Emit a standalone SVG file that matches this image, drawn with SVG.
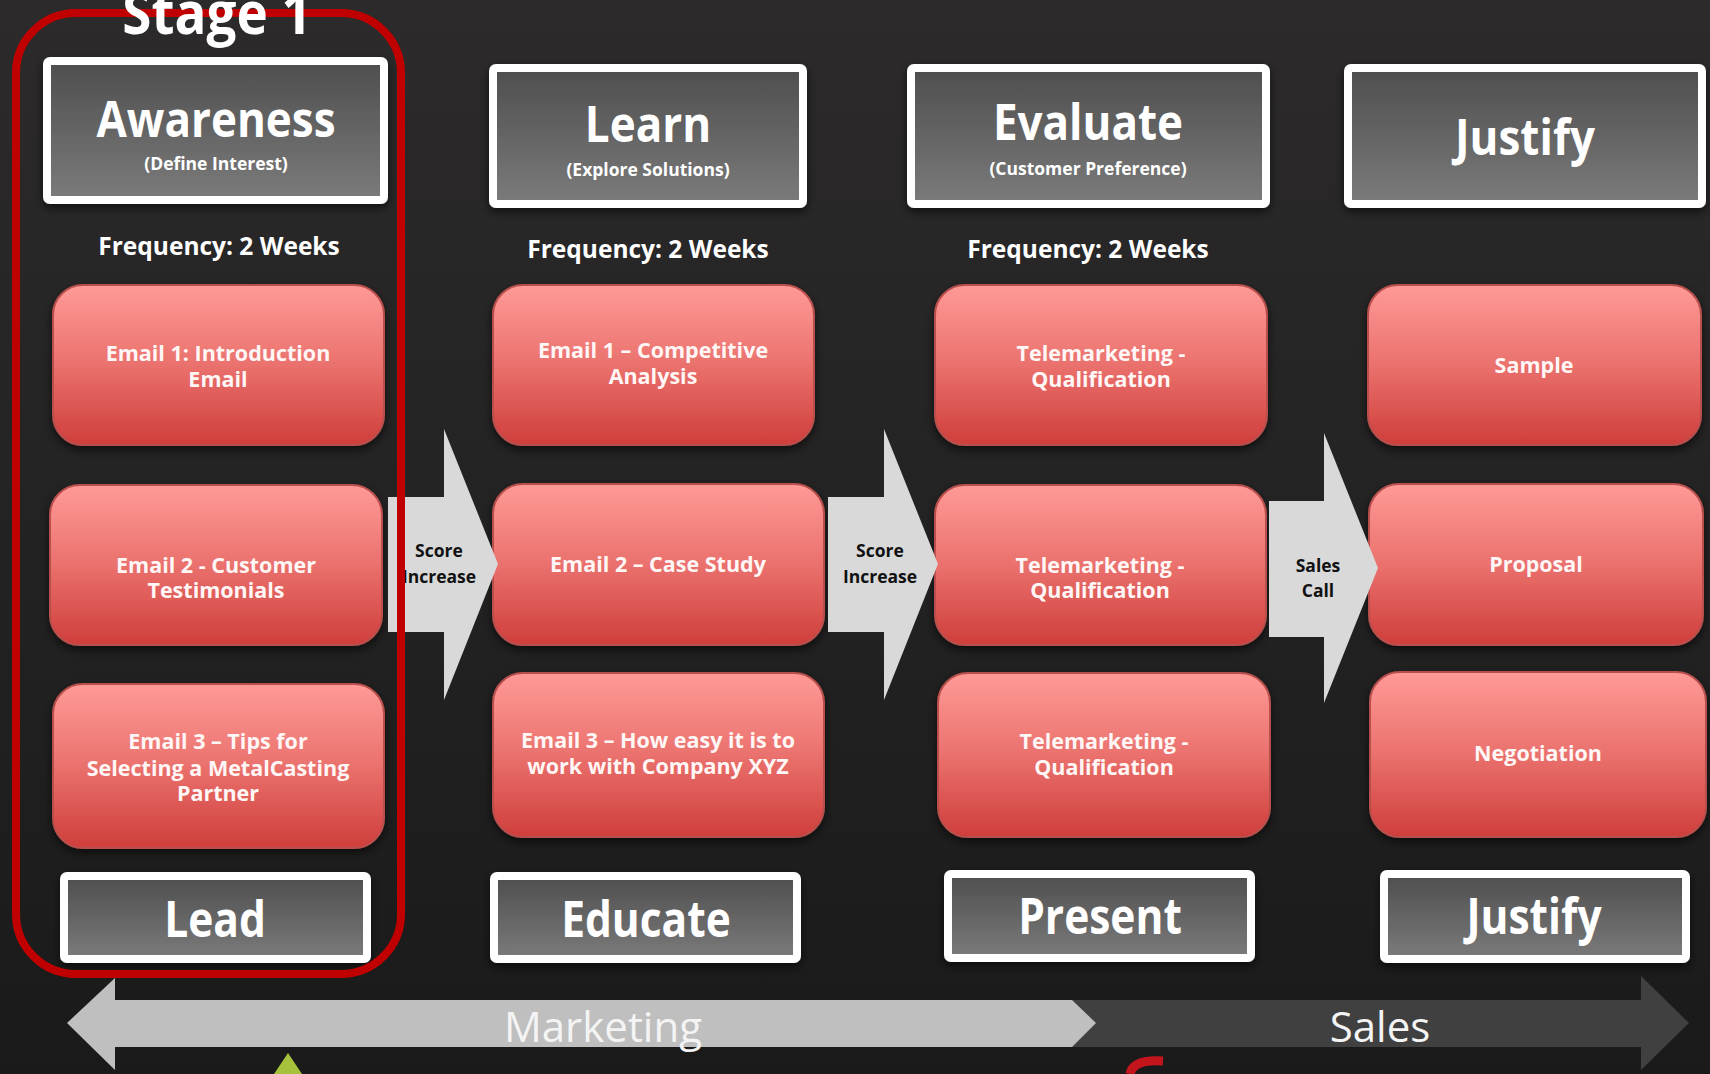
<svg xmlns="http://www.w3.org/2000/svg" width="1710" height="1074" viewBox="0 0 1710 1074">
  <defs>
    <linearGradient id="bg" x1="0" y1="0" x2="0" y2="1">
      <stop offset="0" stop-color="#2c2a2a"/>
      <stop offset="0.6" stop-color="#222121"/>
      <stop offset="1" stop-color="#1a1a1a"/>
    </linearGradient>
    <linearGradient id="redFill" x1="0" y1="0" x2="0" y2="1">
      <stop offset="0" stop-color="#ff9a97"/>
      <stop offset="0.5" stop-color="#ea716d"/>
      <stop offset="1" stop-color="#cf3e3b"/>
    </linearGradient>
    <linearGradient id="grayFill" x1="0" y1="0" x2="0" y2="1">
      <stop offset="0" stop-color="#4e4e4e"/>
      <stop offset="1" stop-color="#7b7b7b"/>
    </linearGradient>
    <filter id="shadow" x="-10%" y="-10%" width="120%" height="130%">
      <feDropShadow dx="0" dy="4" stdDeviation="5" flood-color="#000" flood-opacity="0.6"/>
    </filter>
    <style>
      .step rect { fill: url(#redFill); stroke: #b9504d; stroke-width: 2; filter: url(#shadow); }
      .step text { font-family: "Open Sans", "Noto Sans", sans-serif; font-weight: 700; font-size: 21.5px; fill: #fff6f6; text-anchor: middle; }
      .stage rect { fill: url(#grayFill); stroke: #ffffff; stroke-width: 8; filter: url(#shadow); }
      .title { font-family: "Open Sans", "Noto Sans", sans-serif; font-weight: 700; font-size: 44px; fill: #ffffff; text-anchor: middle; }
      .sub { font-family: "Open Sans", "Noto Sans", sans-serif; font-weight: 700; font-size: 17.5px; fill: #ffffff; text-anchor: middle; }
      .freq { font-family: "Open Sans", "Noto Sans", sans-serif; font-weight: 700; font-size: 24.5px; fill: #ffffff; text-anchor: middle; }
      .label { font-family: "Open Sans", "Noto Sans", sans-serif; font-weight: 700; font-size: 42.5px; fill: #ffffff; text-anchor: middle; }
      .chev polygon { fill: #d9d9d9; }
      .chev text { font-family: "Open Sans", "Noto Sans", sans-serif; font-weight: 700; font-size: 17.5px; fill: #111111; text-anchor: middle; }
      .phase { font-family: "Open Sans", "Noto Sans", sans-serif; font-weight: 400; font-size: 42px; fill: #f4f4f4; text-anchor: middle; }
    </style>
  </defs>

  <!-- backdrop -->
  <rect x="0" y="0" width="1710" height="1074" fill="url(#bg)"/>

  <!-- column headers -->
  <g id="hdr-awareness" class="stage">
    <rect x="47" y="61" width="337" height="139" rx="3"/>
    <text class="title" transform="translate(216,137) scale(1,1.12)">Awareness</text>
    <text class="sub" x="216" y="170">(Define Interest)</text>
  </g>
  <g id="hdr-learn" class="stage">
    <rect x="493" y="68" width="310" height="136" rx="3"/>
    <text class="title" transform="translate(648,142) scale(1,1.12)">Learn</text>
    <text class="sub" x="648" y="176">(Explore Solutions)</text>
  </g>
  <g id="hdr-evaluate" class="stage">
    <rect x="911" y="68" width="355" height="136" rx="3"/>
    <text class="title" transform="translate(1088,140) scale(1,1.12)">Evaluate</text>
    <text class="sub" x="1088" y="175">(Customer Preference)</text>
  </g>
  <g id="hdr-justify" class="stage">
    <rect x="1348" y="68" width="354" height="136" rx="3"/>
    <text class="title" transform="translate(1525,155) scale(1,1.12)">Justify</text>
  </g>

  <!-- cadence notes -->
  <g id="freq-1"><text class="freq" x="219" y="255">Frequency: 2 Weeks</text></g>
  <g id="freq-2"><text class="freq" x="648" y="258">Frequency: 2 Weeks</text></g>
  <g id="freq-3"><text class="freq" x="1088" y="258">Frequency: 2 Weeks</text></g>

  <!-- stage 1 touches -->
  <g id="email1-intro" class="step">
    <rect x="53" y="285" width="331" height="160" rx="30"/>
    <text x="218" y="361">Email 1: Introduction</text>
    <text x="218" y="387">Email</text>
  </g>
  <g id="email2-testimonials" class="step">
    <rect x="50" y="485" width="332" height="160" rx="30"/>
    <text x="216" y="573">Email 2 - Customer</text>
    <text x="216" y="598">Testimonials</text>
  </g>
  <g id="email3-tips" class="step">
    <rect x="53" y="684" width="331" height="164" rx="30"/>
    <text x="218" y="749">Email 3 – Tips for</text>
    <text x="218" y="776">Selecting a MetalCasting</text>
    <text x="218" y="801">Partner</text>
  </g>

  <!-- stage 2 touches -->
  <g id="email1-competitive" class="step">
    <rect x="493" y="285" width="321" height="160" rx="30"/>
    <text x="653" y="358">Email 1 – Competitive</text>
    <text x="653" y="384">Analysis</text>
  </g>
  <g id="email2-casestudy" class="step">
    <rect x="493" y="484" width="331" height="161" rx="30"/>
    <text x="658" y="572">Email 2 – Case Study</text>
  </g>
  <g id="email3-easy" class="step">
    <rect x="493" y="673" width="331" height="164" rx="30"/>
    <text x="658" y="748">Email 3 – How easy it is to</text>
    <text x="658" y="774">work with Company XYZ</text>
  </g>

  <!-- stage 3 touches -->
  <g id="tele-1" class="step">
    <rect x="935" y="285" width="332" height="160" rx="30"/>
    <text x="1101" y="361">Telemarketing -</text>
    <text x="1101" y="387">Qualification</text>
  </g>
  <g id="tele-2" class="step">
    <rect x="935" y="485" width="331" height="160" rx="30"/>
    <text x="1100" y="573">Telemarketing -</text>
    <text x="1100" y="598">Qualification</text>
  </g>
  <g id="tele-3" class="step">
    <rect x="938" y="673" width="332" height="164" rx="30"/>
    <text x="1104" y="749">Telemarketing -</text>
    <text x="1104" y="775">Qualification</text>
  </g>

  <!-- stage 4 touches -->
  <g id="sample" class="step">
    <rect x="1368" y="285" width="333" height="160" rx="30"/>
    <text x="1534" y="373">Sample</text>
  </g>
  <g id="proposal" class="step">
    <rect x="1369" y="484" width="334" height="161" rx="30"/>
    <text x="1536" y="572">Proposal</text>
  </g>
  <g id="negotiation" class="step">
    <rect x="1370" y="672" width="336" height="165" rx="30"/>
    <text x="1538" y="761">Negotiation</text>
  </g>

  <!-- transitions between stages -->
  <g id="connectors" class="chev">
    <g id="score-increase-1">
      <polygon points="388,497 444,497 444,429 498,564 444,700 444,632 388,632"/>
      <text x="439" y="557">Score</text>
      <text x="439" y="583">Increase</text>
    </g>
    <g id="score-increase-2">
      <polygon points="828,497 884,497 884,429 938,564 884,700 884,632 828,632"/>
      <text x="880" y="557">Score</text>
      <text x="880" y="583">Increase</text>
    </g>
    <g id="sales-call">
      <polygon points="1269,501 1324,501 1324,433 1378,568 1324,703 1324,637 1269,637"/>
      <text x="1318" y="572">Sales</text>
      <text x="1318" y="597">Call</text>
    </g>
  </g>

  <!-- funnel outcome labels -->
  <g id="lbl-lead" class="stage">
    <rect x="64" y="876" width="303" height="83" rx="3"/>
    <text class="label" transform="translate(215,937) scale(1,1.17)">Lead</text>
  </g>
  <g id="lbl-educate" class="stage">
    <rect x="494" y="876" width="303" height="83" rx="3"/>
    <text class="label" transform="translate(646,937) scale(1,1.17)">Educate</text>
  </g>
  <g id="lbl-present" class="stage">
    <rect x="948" y="874" width="303" height="84" rx="3"/>
    <text class="label" transform="translate(1100,934) scale(1,1.17)">Present</text>
  </g>
  <g id="lbl-justify" class="stage">
    <rect x="1384" y="874" width="302" height="85" rx="3"/>
    <text class="label" transform="translate(1534,934) scale(1,1.17)">Justify</text>
  </g>

  <!-- stage 1 highlight -->
  <g id="stage1">
    <rect x="16" y="13" width="385" height="961" rx="60" fill="none" stroke="#c00000" stroke-width="8"/>
    <text class="title" transform="translate(217,34) scale(1,1.12)" style="font-size:53px">Stage 1</text>
  </g>

  <!-- marketing / sales band -->
  <g id="phase-bar">
    <polygon points="1060,1000 1641,1000 1641,976 1689,1023 1641,1070 1641,1047 1060,1047" fill="#404040"/>
    <polygon points="67,1023 115,978 115,1000 1072,1000 1096,1023 1072,1047 115,1047 115,1070" fill="#bfbfbf"/>
    <text class="phase" x="603" y="1042">Marketing</text>
    <text class="phase" x="1380" y="1042">Sales</text>
  </g>

  <!-- partly visible marks along the bottom edge -->
  <polygon points="288,1053 274,1074 302,1074" fill="#a6c23c"/>
  <path d="M1130,1074 Q1133,1059 1163,1061" fill="none" stroke="#c4151c" stroke-width="9"/>
</svg>
